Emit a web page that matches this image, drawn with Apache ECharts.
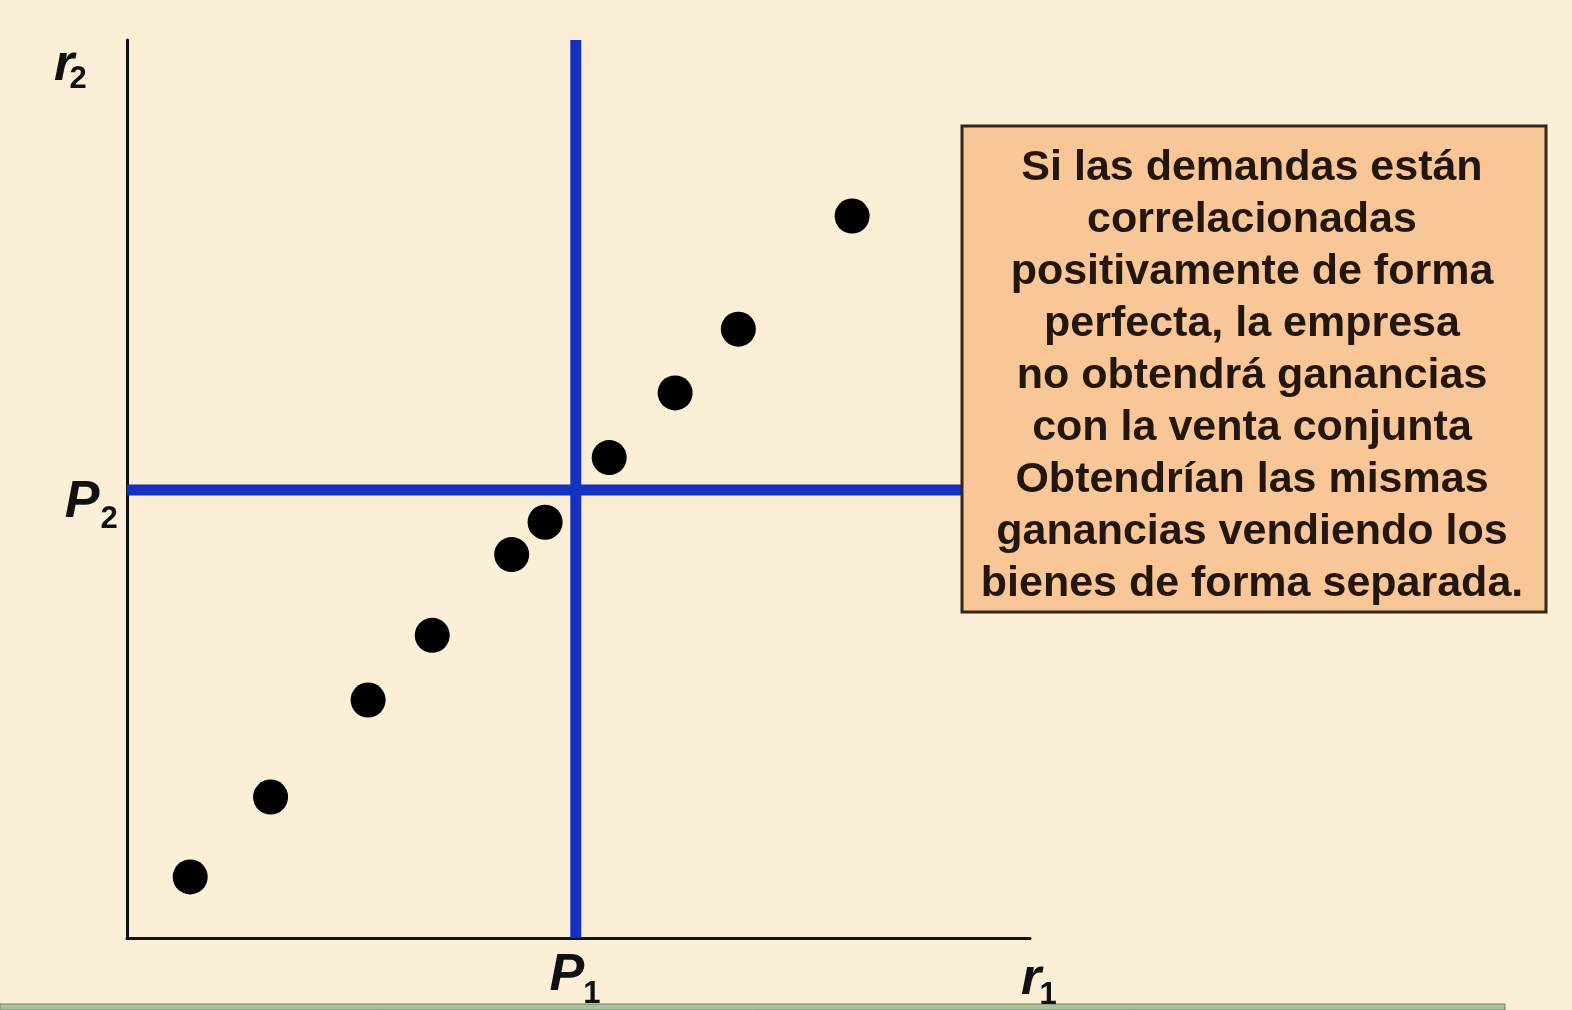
<!DOCTYPE html>
<html>
<head>
<meta charset="utf-8">
<title>Demandas correlacionadas positivamente</title>
<script src="https://cdn.jsdelivr.net/npm/echarts@6/dist/echarts.min.js"></script>
<style>
  html, body { margin: 0; padding: 0; background: #fcefd8; }
  #chart { width: 1572px; height: 1010px; }
</style>
</head>
<body>
<div id="chart"></div>
<script>
// Reservation prices of consumers for good 1 (r1) and good 2 (r2)
const r1Values = [7.0, 15.9, 26.7, 33.8, 42.6, 46.3, 53.4, 60.7, 67.7, 80.3];
const r2Values = [6.8, 15.7, 26.5, 33.7, 42.7, 46.3, 53.5, 60.7, 67.8, 80.4];

// Separate prices P1 and P2, and where the P2 line stops (at the note box)
const priceP1 = 49.7;
const priceP2 = 49.9;
const p2LineEnd = 92.5;

// Axis range
const axisMin = 0;
const axisMax = 100;

// Axis names and price labels: [main letter, subscript]
const labelR1 = ['r', '1'];
const labelR2 = ['r', '2'];
const labelP1 = ['P', '1'];
const labelP2 = ['P', '2'];

const noteLines = [
  'Si las demandas están',
  'correlacionadas',
  'positivamente de forma',
  'perfecta, la empresa',
  'no obtendrá ganancias',
  'con la venta conjunta',
  'Obtendrían las mismas',
  'ganancias vendiendo los',
  'bienes de forma separada.'
];

const points = r1Values.map((v, i) => [v, r2Values[i]]);

const chart = echarts.init(document.getElementById('chart'), null, { renderer: 'canvas' });

const axisCommon = {
  type: 'value',
  min: axisMin,
  max: axisMax,
  axisLine: { show: true, lineStyle: { color: '#111', width: 3 } },
  axisTick: { show: false },
  axisLabel: { show: false },
  splitLine: { show: false }
};

const BLUE = '#1431c2';

chart.setOption({
  backgroundColor: '#fcefd8',
  animation: false,
  grid: { left: 127, right: 542, top: 40, bottom: 72, containLabel: false },
  xAxis: Object.assign({}, axisCommon),
  yAxis: Object.assign({}, axisCommon),
  series: [
    {
      name: 'P2',
      type: 'line',
      data: [[axisMin, priceP2], [p2LineEnd, priceP2]],
      symbol: 'none',
      lineStyle: { color: BLUE, width: 11 },
      z: 3,
      clip: false
    },
    {
      name: 'P1',
      type: 'line',
      data: [[priceP1, axisMin], [priceP1, axisMax]],
      symbol: 'none',
      lineStyle: { color: BLUE, width: 11, cap: 'butt' },
      z: 3,
      clip: false
    },
    {
      name: 'consumidores',
      type: 'scatter',
      data: points,
      symbol: 'circle',
      symbolSize: 35,
      itemStyle: { color: '#000', opacity: 1 },
      z: 5
    }
  ]
});

// Labels anchored to axis ends and price lines
const toPx = (pt) => chart.convertToPixel({ gridIndex: 0 }, pt);
const pP1 = toPx([priceP1, axisMin]);
const pP2 = toPx([axisMin, priceP2]);
const pXEnd = toPx([axisMax, axisMin]);
const pYEnd = toPx([axisMin, axisMax]);

const MAIN_FONT = { fontFamily: 'Liberation Sans, Arial, sans-serif', fontWeight: 'bold', fontStyle: 'italic', fontSize: 52, fill: '#111' };
const SUB_FONT = { fontFamily: 'Liberation Sans, Arial, sans-serif', fontWeight: 'bold', fontSize: 31, fill: '#111' };

function symbolLabel(anchor, label, main, sub) {
  return [
    { type: 'text', x: anchor[0] + main[0], y: anchor[1] + main[1], z: 10,
      style: Object.assign({ text: label[0], align: 'center', verticalAlign: 'middle' }, MAIN_FONT) },
    { type: 'text', x: anchor[0] + sub[0], y: anchor[1] + sub[1], z: 10,
      style: Object.assign({ text: label[1], align: 'center', verticalAlign: 'middle' }, SUB_FONT) }
  ];
}

const box = { left: 962, top: 126, width: 584, height: 486 };

chart.setOption({
  graphic: [].concat(
    symbolLabel(pYEnd, labelR2, [-63, 26], [-49, 39]),
    symbolLabel(pP2, labelP2, [-45, 13], [-18, 30]),
    symbolLabel(pP1, labelP1, [-9, 38], [16, 56]),
    symbolLabel(pXEnd, labelR1, [1, 42], [18, 57]),
    [
      {
        type: 'rect', z: 8,
        shape: { x: box.left, y: box.top, width: box.width, height: box.height },
        style: { fill: '#f9c697', stroke: '#33261c', lineWidth: 3 }
      },
      {
        type: 'text', z: 9,
        x: box.left + box.width / 2 - 2,
        y: box.top + box.height / 2 + 7,
        style: {
          text: noteLines.join('\n'),
          align: 'center',
          verticalAlign: 'middle',
          fontFamily: 'Liberation Sans, Arial, sans-serif',
          fontWeight: 'bold',
          fontSize: 43,
          lineHeight: 52,
          fill: '#22160f'
        }
      },
      {
        // green strip along the bottom edge
        type: 'rect', z: 1,
        shape: { x: 0, y: 1004, width: 1505, height: 6 },
        style: { fill: '#a6c596', stroke: '#6f7f66', lineWidth: 1 }
      }
    ]
  )
});
</script>
</body>
</html>
